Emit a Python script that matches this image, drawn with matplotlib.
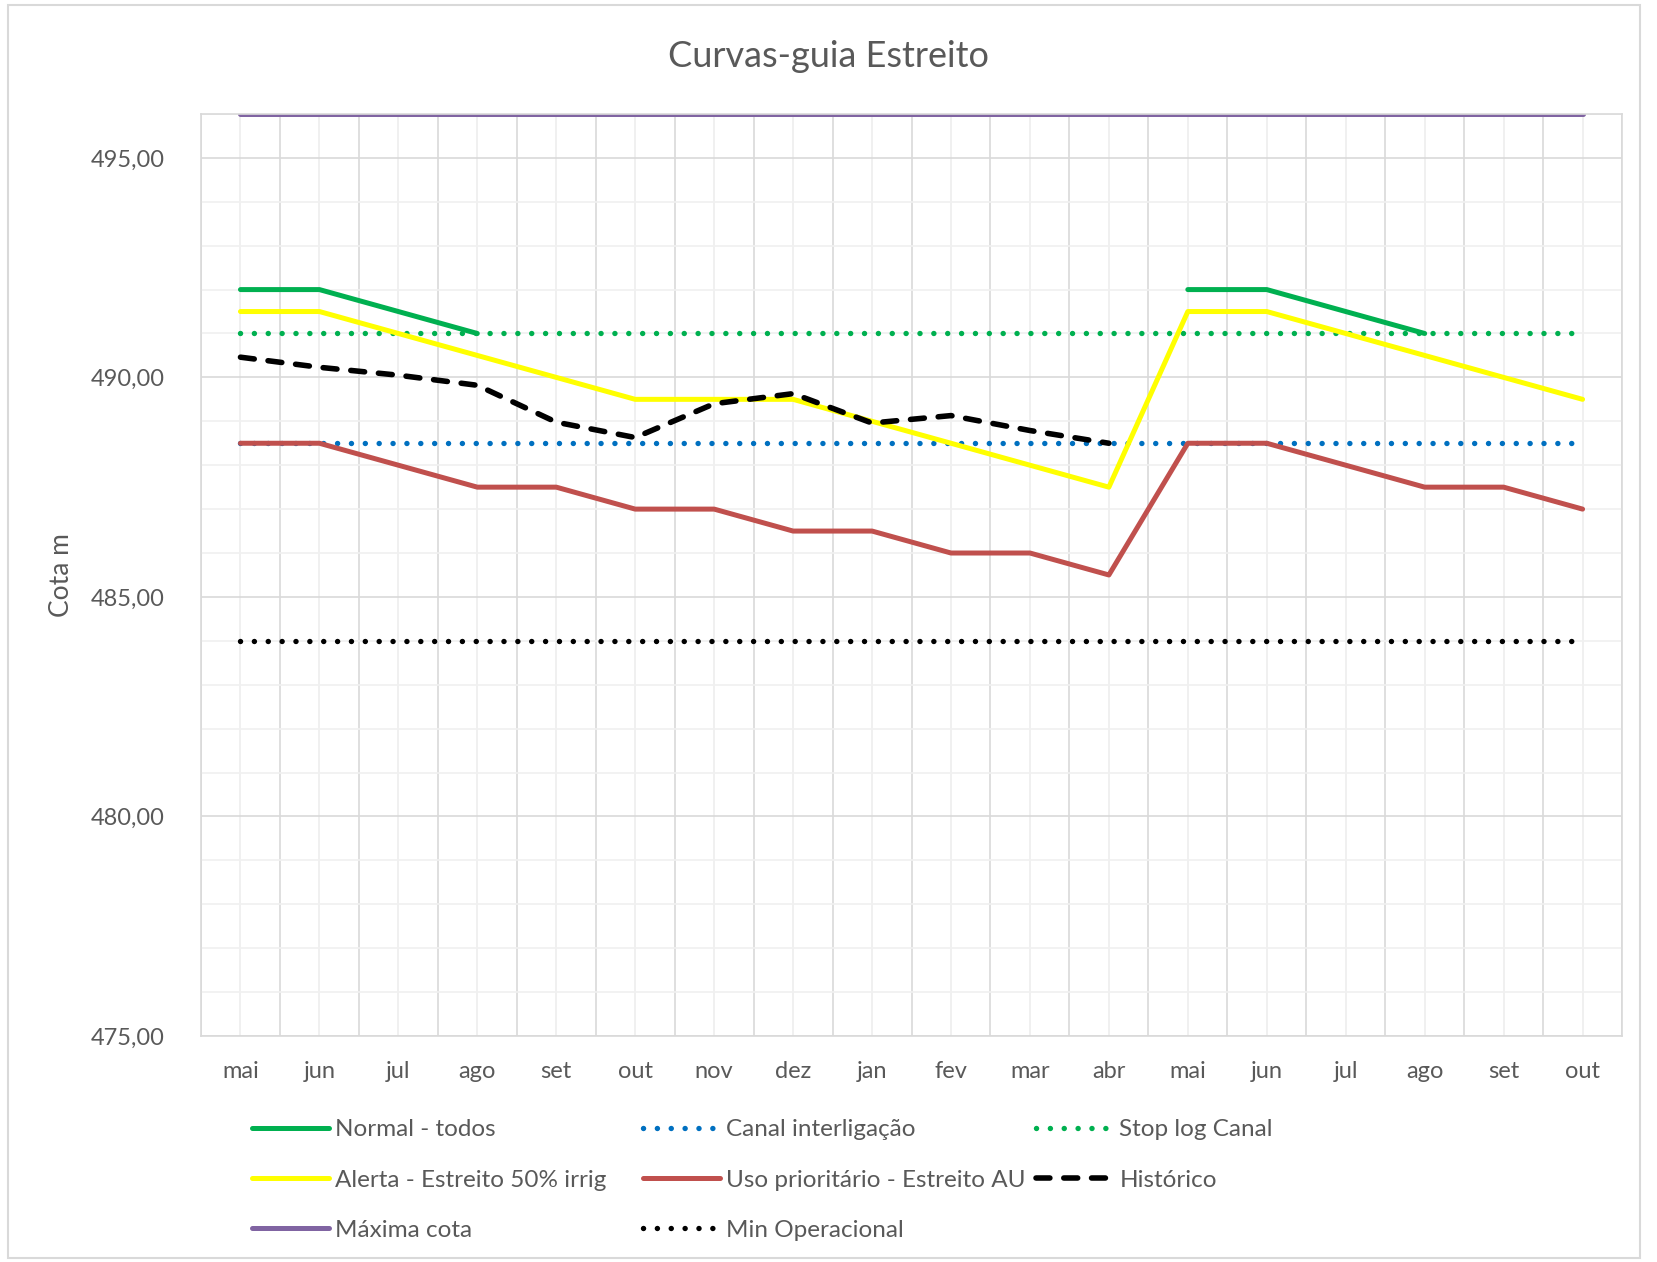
import numpy as np
import matplotlib
matplotlib.use("Agg")
import matplotlib.pyplot as plt
from matplotlib.patches import Rectangle
from matplotlib.ticker import MultipleLocator, FixedLocator, FuncFormatter

plt.rcParams['font.family'] = ['Lato', 'DejaVu Sans']

months = ["mai", "jun", "jul", "ago", "set", "out", "nov", "dez", "jan", "fev",
          "mar", "abr", "mai", "jun", "jul", "ago", "set", "out"]
nan = np.nan

normal = [492, 492, 491.5, 491, nan, nan, nan, nan, nan, nan, nan, nan,
          492, 492, 491.5, 491, nan, nan]
canal = [488.5] * 18
stop_log = [491] * 18
alerta = [491.5, 491.5, 491, 490.5, 490, 489.5, 489.5, 489.5, 489, 488.5, 488, 487.5,
          491.5, 491.5, 491, 490.5, 490, 489.5]
uso = [488.5, 488.5, 488, 487.5, 487.5, 487, 487, 486.5, 486.5, 486, 486, 485.5,
       488.5, 488.5, 488, 487.5, 487.5, 487]
historico = [490.46, 490.23, 490.05, 489.82, 488.98, 488.63, 489.40, 489.63, 488.96,
             489.13, 488.79, 488.50, nan, nan, nan, nan, nan, nan]
maxima = [496] * 18
min_oper = [484] * 18

TXT = "#595959"

fig = plt.figure(figsize=(16.57, 12.62), dpi=100)
fig.patches.append(Rectangle((0.005, 0.003), 0.985, 0.993, transform=fig.transFigure,
                             fill=False, edgecolor="#d9d9d9", linewidth=1.5))
ax = fig.add_axes([0.1213, 0.1791, 0.9789 - 0.1213, 0.9097 - 0.1791])

x = np.arange(len(months))
solid = dict(linewidth=3.6, solid_capstyle="round", solid_joinstyle="round")
dot = dict(linewidth=3.9, linestyle=(0, (0.01, 2.55)), dash_capstyle="round")

ax.plot(x, normal, color="#00b050", label="Normal - todos", **solid)
ax.plot(x, canal, color="#0070c0", label="Canal interligação", **dot)
ax.plot(x, stop_log, color="#00b050", label="Stop log Canal", **dot)
ax.plot(x, alerta, color="#ffff00", label="Alerta - Estreito 50% irrig", **solid)
ax.plot(x, uso, color="#c0504d", label="Uso prioritário - Estreito AU", **solid)
ax.plot(x, historico, color="black", label="Histórico", linewidth=4.0,
        linestyle=(0, (2.5, 2.5)), dash_capstyle="round")
ax.plot(x, maxima, color="#8064a2", label="Máxima cota", **solid)
ax.plot(x, min_oper, color="black", label="Min Operacional", **dot)

ax.set_xlim(-0.5, len(months) - 0.5)
ax.set_ylim(475, 496)
ax.xaxis.set_major_locator(FixedLocator(x))
ax.set_xticklabels(months)
ax.xaxis.set_minor_locator(FixedLocator(np.arange(-0.5, len(months), 1.0)))
ax.yaxis.set_major_locator(MultipleLocator(5))
ax.yaxis.set_minor_locator(MultipleLocator(1))
ax.yaxis.set_major_formatter(FuncFormatter(lambda v, p: f"{v:.2f}".replace(".", ",")))

ax.grid(which="minor", axis="x", color="#d9d9d9", linewidth=1.2)
ax.grid(which="major", axis="x", color="#eeeeee", linewidth=1.2)
ax.grid(which="major", axis="y", color="#d9d9d9", linewidth=1.2)
ax.grid(which="minor", axis="y", color="#f0f0f0", linewidth=1.2)
ax.set_axisbelow(True)
ax.tick_params(which="both", length=0)
ax.tick_params(axis="x", labelsize=17, labelcolor=TXT, pad=18)
ax.tick_params(axis="y", labelsize=17, labelcolor=TXT, pad=26)
for s in ax.spines.values():
    s.set_color("#d9d9d9")
    s.set_linewidth(1.2)

ax.set_ylabel("Cota m", fontsize=19, color=TXT, labelpad=12)
fig.text(0.5, 0.955, "Curvas-guia Estreito", ha="center", va="center",
         fontsize=26, color=TXT)

handles, labels = ax.get_legend_handles_labels()
cols = [[0, 3, 6], [1, 4, 7], [2, 5]]
xs = [0.1518, 0.3878, 0.625]
for xi, idx in zip(xs, cols):
    fig.legend([handles[i] for i in idx], [labels[i] for i in idx],
               loc="upper left", bbox_to_anchor=(xi, 0.113), frameon=False,
               fontsize=17.5, labelcolor=TXT, handlelength=3.2, handletextpad=0.25,
               labelspacing=1.2, borderpad=0, borderaxespad=0)

fig.savefig("out.png", dpi=100)
